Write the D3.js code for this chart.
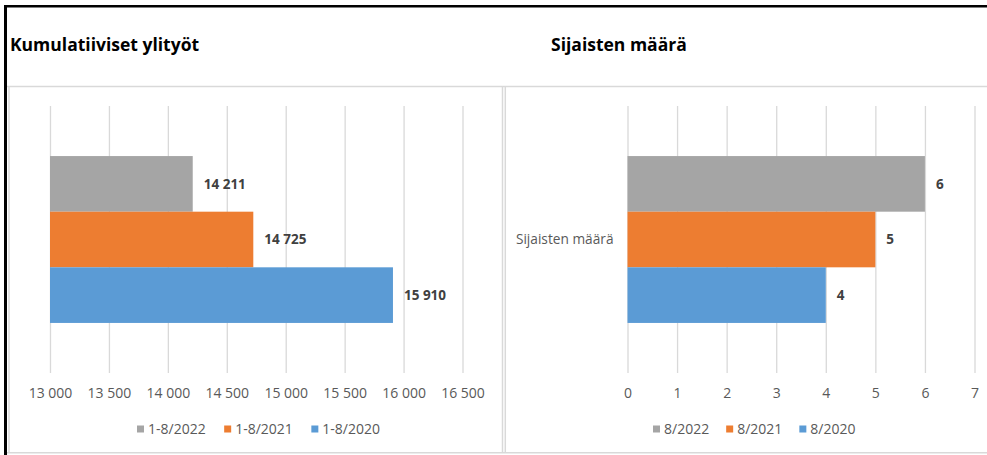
<!DOCTYPE html>
<meta charset="utf-8">
<style>
  body { margin: 0; background: #fff; }
  text { font-family: "Open Sans", "Noto Sans", sans-serif; }
  .title { font-size: 17.5px; font-weight: bold; fill: #000; }
  .axis path { display: none; }
  .axis line { stroke: #d9d9d9; stroke-width: 1.3; }
  .axis text { font-size: 14px; fill: #595959; }
  .value { font-size: 13.5px; font-weight: bold; fill: #404040; }
  .legend text { font-size: 14px; fill: #595959; }
  .cat { font-size: 13.7px; fill: #595959; }
</style>
<body>
<svg width="987" height="455"></svg>
<script src="https://cdn.jsdelivr.net/npm/d3@7"></script>
<script>
  // overtime chart (left)
  const overtimeSeries = ["1-8/2022", "1-8/2021", "1-8/2020"];
  const overtimeValues = [14211, 14725, 15910];
  const overtimeTicks = [13000, 13500, 14000, 14500, 15000, 15500, 16000, 16500];

  // substitutes chart (right)
  const subsCategory = "Sijaisten määrä";
  const subsSeries = ["8/2022", "8/2021", "8/2020"];
  const subsValues = [6, 5, 4];
  const subsTicks = [0, 1, 2, 3, 4, 5, 6, 7];

  const colors = ["#a5a5a5", "#ed7d31", "#5b9bd5"];

  const fi = d3.formatLocale({decimal: ",", thousands: " ", grouping: [3], currency: ["", " €"]});
  const fmt = fi.format(",");

  const svg = d3.select("svg");

  // frame
  svg.append("rect").attr("x", 4).attr("y", 5).attr("width", 983).attr("height", 2.5).attr("fill", "#000");
  svg.append("rect").attr("x", 4).attr("y", 5).attr("width", 3).attr("height", 450).attr("fill", "#000");
  const frame = svg.append("g").attr("fill", "none").attr("stroke", "#d9d9d9").attr("stroke-width", 1.5);
  frame.append("line").attr("x1", 7).attr("x2", 987).attr("y1", 86.5).attr("y2", 86.5);
  frame.append("line").attr("x1", 7).attr("x2", 987).attr("y1", 452.8).attr("y2", 452.8);
  frame.append("line").attr("x1", 9).attr("x2", 9).attr("y1", 86.5).attr("y2", 452.8);
  frame.append("line").attr("x1", 502.5).attr("x2", 502.5).attr("y1", 86.5).attr("y2", 452.8);
  frame.append("line").attr("x1", 505.3).attr("x2", 505.3).attr("y1", 86.5).attr("y2", 452.8);

  const plotTop = 106, plotBottom = 373;

  function drawPanel(opt) {
    const g = svg.append("g");

    g.append("text").attr("class", "title")
        .attr("x", opt.titleX).attr("y", 51)
        .text(opt.title);

    const x = d3.scaleLinear().domain(opt.domain).range(opt.range);
    const y0 = d3.scaleBand().domain([opt.category]).range([plotTop, plotBottom])
        .paddingInner(0).paddingOuter(0.3);
    const y1 = d3.scaleBand().domain(opt.series).range([0, y0.bandwidth()]);

    g.append("g")
        .attr("class", "axis")
        .attr("transform", `translate(0,${plotBottom})`)
        .call(d3.axisBottom(x)
          .tickValues(opt.ticks)
          .tickSize(-(plotBottom - plotTop))
          .tickPadding(15.5)
          .tickFormat(opt.format));

    if (opt.category) {
      g.append("text").attr("class", "cat")
          .attr("x", x(opt.domain[0]) - 14)
          .attr("y", y0(opt.category) + y0.bandwidth() / 2)
          .attr("dy", "0.35em")
          .attr("text-anchor", "end")
          .text(opt.category);
    }

    const bars = g.selectAll(".bar")
      .data(opt.values.map((v, i) => ({name: opt.series[i], value: v, i: i})))
      .enter();

    bars.append("rect")
        .attr("x", x(opt.domain[0]))
        .attr("y", d => y0(opt.category) + y1(d.name))
        .attr("width", d => x(d.value) - x(opt.domain[0]))
        .attr("height", y1.bandwidth())
        .attr("fill", d => colors[d.i]);

    bars.append("text")
        .attr("class", "value")
        .attr("x", d => x(d.value) + 11)
        .attr("y", d => y0(opt.category) + y1(d.name) + y1.bandwidth() / 2)
        .attr("dy", "0.35em")
        .text(d => opt.format(d.value));

    // legend
    const legend = g.append("g").attr("class", "legend");
    let lx = opt.legendX;
    opt.series.forEach((s, i) => {
      legend.append("rect").attr("x", lx).attr("y", 425.5).attr("width", 7).attr("height", 7).attr("fill", colors[i]);
      const t = legend.append("text").attr("x", lx + 11).attr("y", 429).attr("dy", "0.35em").text(s);
      lx += 11 + t.node().getComputedTextLength() + opt.legendGap;
    });
  }

  drawPanel({
    title: "Kumulatiiviset ylityöt",
    titleX: 10,
    category: "",
    series: overtimeSeries,
    values: overtimeValues,
    ticks: overtimeTicks,
    domain: [13000, 16500],
    range: [50, 462.5],
    format: fmt,
    legendX: 137,
    legendGap: 18.5
  });

  drawPanel({
    title: "Sijaisten määrä",
    titleX: 551,
    category: subsCategory,
    series: subsSeries,
    values: subsValues,
    ticks: subsTicks,
    domain: [0, 7],
    range: [627.5, 974.5],
    format: d3.format("d"),
    legendX: 653,
    legendGap: 17
  });
</script>
</body>
